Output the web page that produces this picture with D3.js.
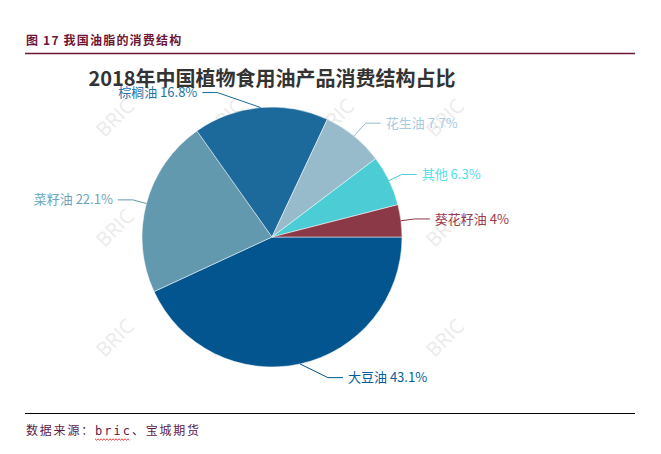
<!DOCTYPE html>
<html><head><meta charset="utf-8">
<script src="https://cdn.jsdelivr.net/npm/d3@7"></script>
<style>
html,body{margin:0;padding:0;background:#fff;}
svg{display:block;}
</style></head>
<body>
<script>
// ---- data ----
const categories = ["大豆油","菜籽油","棕榈油","花生油","其他","葵花籽油"];
const shares = [43.1, 22.1, 16.8, 7.7, 6.3, 4];
const shareLabels = ["43.1%","22.1%","16.8%","7.7%","6.3%","4%"];
const sliceColors = ["#02558f","#6299ae","#1c6a9b","#98bbcc","#4ccdd6","#8b3847"];
const chartTitle = "2018年中国植物食用油产品消费结构占比";
const figureTitle = "图 17 我国油脂的消费结构";
const sourceParts = ["数据来源：", "bric", "、宝城期货"];

const W = 661, H = 454;
const svg = d3.select("body").append("svg").attr("width", W).attr("height", H);

// header
svg.append("text").attr("x", 26).attr("y", 45)
  .attr("font-family", "'Noto Sans CJK SC', sans-serif").attr("font-weight", "bold")
  .attr("font-size", 12).attr("letter-spacing", 1.2).attr("fill", "#6e1636").text(figureTitle);
svg.append("line").attr("x1", 25).attr("x2", 635).attr("y1", 53.5).attr("y2", 53.5)
  .attr("stroke", "#6e1636").attr("stroke-width", 1.5);

// watermark
const wm = svg.append("g");
[115, 225, 335, 445].forEach(x => [118, 228, 338].forEach(y => {
  wm.append("text").attr("transform", `translate(${x},${y}) rotate(-45)`)
    .attr("text-anchor", "middle").attr("dy", "0.35em")
    .attr("font-family", "'Open Sans', sans-serif").attr("font-size", 20)
    .attr("fill", "#ebebeb").text("BRIC");
}));

// pie
const cx = 272, cy = 237, R = 130;
const data = categories.map((c, i) => ({name: c, value: shares[i], label: shareLabels[i], color: sliceColors[i]}));
const pie = d3.pie().value(d => d.value).sort(null)
  .startAngle(Math.PI / 2).endAngle(Math.PI / 2 + 2 * Math.PI);
const arcs = pie(data);
const arc = d3.arc().innerRadius(0).outerRadius(R);
const g = svg.append("g").attr("transform", `translate(${cx},${cy})`);
g.selectAll("path.slice").data(arcs).enter().append("path")
  .attr("d", arc).attr("fill", d => d.data.color)
  .attr("stroke", "#fff").attr("stroke-width", 0.5);

// labels
const nudge = {"棕榈油": [-42, -1], "大豆油": [25, 0], "花生油": [3, -2]};
const len1 = 14, len2 = 15;
arcs.forEach(a => {
  const m = (a.startAngle + a.endAngle) / 2;
  const sx = R * Math.sin(m), sy = -R * Math.cos(m);
  let ex = (R + len1) * Math.sin(m), ey = -(R + len1) * Math.cos(m);
  const n = nudge[a.data.name] || [0, 0];
  ex += n[0]; ey += n[1];
  const dir = ex >= 0 ? 1 : -1;
  const hx = ex + dir * len2;
  g.append("polyline")
    .attr("points", [[sx, sy], [ex, ey], [hx, ey]].map(p => p.join(",")).join(" "))
    .attr("fill", "none").attr("stroke", a.data.color).attr("stroke-width", 1);
  g.append("text").attr("x", hx + dir * 5).attr("y", ey).attr("dy", "0.35em")
    .attr("text-anchor", dir > 0 ? "start" : "end")
    .attr("font-family", "'Noto Sans CJK SC', sans-serif").attr("font-size", 13)
    .attr("fill", d3.color(a.data.color).brighter(0.25)).text(a.data.name + " " + a.data.label);
});

// chart title (drawn above labels, as in the reference)
svg.append("text").attr("x", 272).attr("y", 86).attr("text-anchor", "middle")
  .attr("font-family", "'Noto Sans CJK SC', sans-serif").attr("font-weight", "bold")
  .attr("font-size", 20).attr("fill", "#333").text(chartTitle);

// footer
svg.append("line").attr("x1", 25).attr("x2", 635).attr("y1", 413.5).attr("y2", 413.5)
  .attr("stroke", "#000").attr("stroke-width", 1.2);
const src = svg.append("text").attr("x", 26).attr("y", 435)
  .attr("font-family", "'Noto Sans CJK SC', sans-serif").attr("font-size", 12)
  .attr("letter-spacing", 1.8).attr("fill", "#5e1a45");
src.append("tspan").text(sourceParts[0]);
src.append("tspan").attr("font-family", "'DejaVu Sans Mono', monospace")
  .attr("letter-spacing", 2).text(sourceParts[1]);
src.append("tspan").text(sourceParts[2]);
// spell-check squiggle under "bric"
const node = src.node();
const startX = 26 + node.getSubStringLength(0, 5);
const endX = 26 + node.getSubStringLength(0, 9) - 2;
let pts = [];
for (let x = startX, k = 0; x <= endX; x += 1.5, k++) pts.push([x, 439 + (k % 2 ? 1.2 : -0.2)]);
svg.append("polyline").attr("points", pts.map(p => p.join(",")).join(" "))
  .attr("fill", "none").attr("stroke", "#e00").attr("stroke-width", 0.8);
</script>
</body></html>
